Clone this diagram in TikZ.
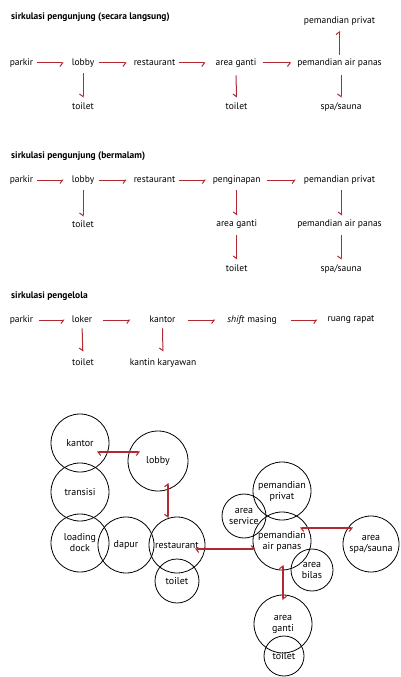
\documentclass[tikz,border=0pt]{standalone}
\usepackage{fontspec}
\setmainfont{PT Sans}
\usetikzlibrary{arrows.meta,calc}
\definecolor{arrred}{RGB}{178,40,48}
\tikzset{
  hl/.tip={Straight Barb[harpoon,length=2.6pt,width=7pt]},
  hr/.tip={Straight Barb[harpoon,swap,length=2.6pt,width=7pt]},
  lbl/.style={inner sep=0pt, text height=6.5pt, text depth=2pt, font=\fontsize{9.5}{10}\selectfont},
  ttl/.style={inner sep=0pt, anchor=west, font=\fontsize{9.5}{10}\selectfont\bfseries},
  arr/.style={draw=arrred, line width=1pt, -{hr}},
  arrup/.style={draw=arrred, line width=1pt, -{hl}},
  bub/.style={circle, draw, line width=0.8pt, inner sep=0pt, align=center, font=\fontsize{10}{11}\selectfont},
  barr/.style={draw=arrred, line width=1.1pt},
}
\begin{document}
\begin{tikzpicture}[x=1pt,y=-1pt]
\useasboundingbox (0,0) rectangle (400,677);
\fill[white] (0,0) rectangle (400,677);
% ---------------- diagram 1
\node[ttl] (t1) at (11,17) {sirkulasi pengunjung (secara langsung)};
\node[lbl] (a1) at (21.5,63) {parkir};
\node[lbl] (b1) at (83,63) {lobby};
\node[lbl] (c1) at (154.5,63) {restaurant};
\node[lbl] (e1) at (236,63) {area ganti};
\node[lbl] (f1) at (339.5,63) {pemandian air panas};
\node[lbl] (g1) at (339.5,21) {pemandian privat};
\node[lbl] (h1) at (83,107) {toilet};
\node[lbl] (i1) at (236.5,107) {toilet};
\node[lbl] (j1) at (341,107) {spa/sauna};
\draw[arr, shorten <=4pt, shorten >=8pt] (a1.east) -- (b1.west);
\draw[arr, shorten <=5pt, shorten >=7pt] (b1.east) -- (c1.west);
\draw[arr, shorten <=4pt, shorten >=10pt] (c1.east) -- (e1.west);
\draw[arr, shorten <=6pt, shorten >=6pt] (e1.east) -- (f1.west);
\draw[arrup, shorten <=4pt, shorten >=5.5pt] (f1.north) -- (g1.south);
\draw[arr, shorten <=6pt, shorten >=5pt] (b1.south) -- (h1.north);
\draw[arr, shorten <=8pt, shorten >=5pt] (e1.south) -- (i1.north);
\draw[arr, shorten <=8pt, shorten >=5pt] (f1.south -| j1.north) -- (j1.north);
% ---------------- diagram 2
\node[ttl] (t2) at (11,156) {sirkulasi pengunjung (bermalam)};
\node[lbl] (a2) at (21.5,180) {parkir};
\node[lbl] (b2) at (83,180) {lobby};
\node[lbl] (c2) at (154.5,180) {restaurant};
\node[lbl] (e2) at (236.7,180) {penginapan};
\node[lbl] (f2) at (339.5,180) {pemandian privat};
\node[lbl] (h2) at (83,225) {toilet};
\node[lbl] (k2) at (236.7,224) {area ganti};
\node[lbl] (m2) at (236.7,269) {toilet};
\node[lbl] (n2) at (339.5,224) {pemandian air panas};
\node[lbl] (o2) at (341,269) {spa/sauna};
\draw[arr, shorten <=4pt, shorten >=8pt] (a2.east) -- (b2.west);
\draw[arr, shorten <=5pt, shorten >=7pt] (b2.east) -- (c2.west);
\draw[arr, shorten <=4pt, shorten >=6.7pt] (c2.east) -- (e2.west);
\draw[arr, shorten <=6pt, shorten >=8pt] (e2.east) -- (f2.west);
\draw[arr, shorten <=6pt, shorten >=4pt] (b2.south) -- (h2.north);
\draw[arr, shorten <=6pt, shorten >=4pt] (e2.south) -- (k2.north);
\draw[arr, shorten <=7pt, shorten >=5pt] (k2.south) -- (m2.north);
\draw[arr, shorten <=6pt, shorten >=4pt] (f2.south -| n2.north) ++(2,0) -- ($(n2.north)+(2,0)$);
\draw[arr, shorten <=7pt, shorten >=5pt] (n2.south -| o2.north) -- (o2.north);
% ---------------- diagram 3
\node[ttl] (t3) at (11,296) {sirkulasi pengelola};
\node[lbl] (a3) at (21.5,320) {parkir};
\node[lbl] (b3) at (82,320) {loker};
\node[lbl] (c3) at (162.5,320) {kantor};
\node[lbl] (d3) at (252,320) {\textit{shift} masing};
\node[lbl] (e3) at (351,319) {ruang rapat};
\node[lbl] (f3) at (83,363) {toilet};
\node[lbl] (g3) at (163,363) {kantin karyawan};
\draw[arr, shorten <=6pt, shorten >=7pt] (a3.east) -- (b3.west);
\draw[arr, shorten <=11pt, shorten >=19pt] (b3.east) -- (c3.west);
\draw[arr, shorten <=12pt, shorten >=12pt] (c3.east) -- (d3.west);
\draw[arr, shorten <=14pt, shorten >=10pt] (d3.east) -- (e3.west |- d3.east);
\draw[arr, shorten <=4pt, shorten >=7pt] (b3.south) -- (f3.north);
\draw[arr, shorten <=4pt, shorten >=7pt] (c3.south) -- (g3.north);
% ---------------- bubble diagram
\node[bub, minimum size=58pt] (kantor) at (80,443) {kantor};
\node[bub, minimum size=58pt] (transisi) at (80,492) {transisi};
\node[bub, minimum size=58pt] (loading) at (80,543) {loading\\dock};
\node[bub, minimum size=56pt] (dapur) at (126,545) {dapur};
\node[bub, minimum size=56pt] (resto) at (177,545) {restaurant};
\node[bub, minimum size=44pt] (toiletL) at (177,581) {toilet};
\node[bub, minimum size=60pt] (lobby) at (158,461) {lobby};
\node[bub, minimum size=58pt] (privat) at (282,491) {pemandian\\privat};
\node[bub, minimum size=44pt] (service) at (244,516) {area\\service};
\node[bub, minimum size=58pt] (panas) at (282,541) {pemandian\\air panas};
\node[bub, minimum size=42pt] (bilas) at (312,570) {area\\bilas};
\node[bub, minimum size=56pt] (spa) at (371,544) {area\\spa/sauna};
\node[bub, minimum size=58pt] (ganti) at (283,624) {area\\ganti};
\node[bub, minimum size=40pt] (toiletR) at (284,656) {toilet};
\draw[barr, {hl}-{hr}] ($(kantor.center)+(17,9)$) -- ($(lobby.center)+(-18,-9)$);
\draw[barr, {hl}-{hr}] ($(lobby.center)+(10,22)$) -- ($(resto.center)+(-9,-27)$);
\draw[barr, {hl}-{hl}] ($(resto.center)+(18,4)$) -- ($(panas.center)+(-27,8)$);
\draw[barr, {hl}-{hr}] ($(panas.center)+(18,-13)$) -- ($(spa.center)+(-18,-16)$);
\draw[barr, {hl}-{hl}] ($(panas.center)+(1,24)$) -- ($(ganti.center)+(0,-24)$);
\end{tikzpicture}
\end{document}
